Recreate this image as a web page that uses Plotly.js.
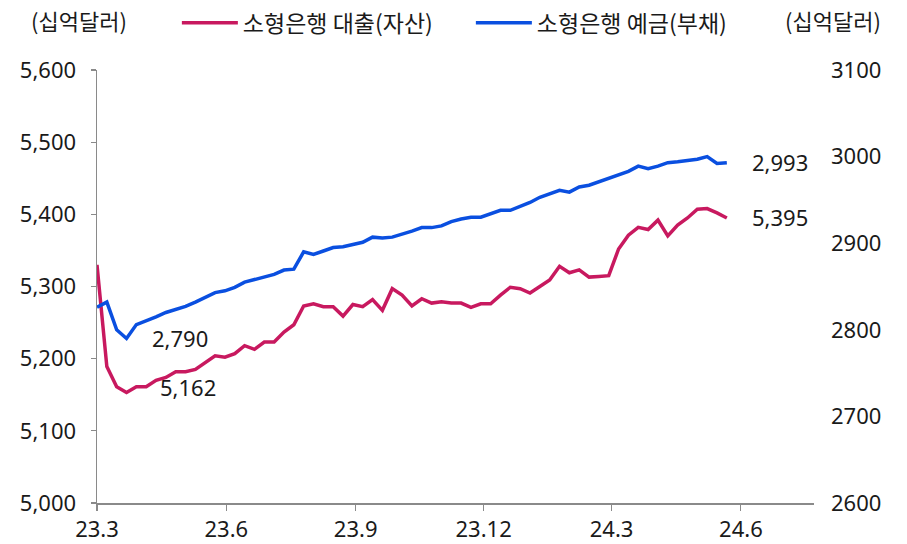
<!DOCTYPE html>
<html><head><meta charset="utf-8">
<script src="https://cdn.plot.ly/plotly-3.0.1.min.js"></script>
<style>html,body{margin:0;padding:0;background:#fff}#chart{width:907px;height:544px}</style>
</head><body><div id="chart"></div>
<script>
const dates = [
'2023-03-01','2023-03-08','2023-03-15','2023-03-22','2023-03-29','2023-04-05','2023-04-12','2023-04-19','2023-04-26',
'2023-05-03','2023-05-10','2023-05-17','2023-05-24','2023-05-31','2023-06-07','2023-06-14','2023-06-21','2023-06-28',
'2023-07-05','2023-07-12','2023-07-19','2023-07-26','2023-08-02','2023-08-09','2023-08-16','2023-08-23','2023-08-30',
'2023-09-06','2023-09-13','2023-09-20','2023-09-27','2023-10-04','2023-10-11','2023-10-18','2023-10-25',
'2023-11-01','2023-11-08','2023-11-15','2023-11-22','2023-11-29','2023-12-06','2023-12-13','2023-12-20','2023-12-27',
'2024-01-03','2024-01-10','2024-01-17','2024-01-24','2024-01-31','2024-02-07','2024-02-14','2024-02-21','2024-02-28',
'2024-03-06','2024-03-13','2024-03-20','2024-03-27','2024-04-03','2024-04-10','2024-04-17','2024-04-24',
'2024-05-01','2024-05-08','2024-05-15','2024-05-22'];

const loans = [5330,5189,5161,5153,5161,5161,5170,5174,5182,5182,
5185,5195,5204,5202,5207,5218,5213,5223,5223,5237,
5247,5273,5276,5272,5272,5259,5275,5272,5282,5267,
5297,5288,5273,5283,5277,5279,5277,5277,5271,5276,
5276,5288,5299,5297,5291,5300,5309,5328,5319,5323,
5313,5314,5315,5352,5371,5382,5379,5392,5370,5385,
5395,5407,5408,5402,5395];

const deposits = [2826,2832,2800,2790,2806,2810,2815,2820,2823,2827,
2832,2838,2843,2845,2849,2855,2858,2862,2864,2869,
2870,2890,2887,2891,2895,2896,2898,2901,2907,2906,
2907,2910,2914,2918,2918,2920,2925,2928,2930,2930,
2934,2938,2938,2942,2947,2953,2957,2961,2959,2965,
2967,2971,2974,2978,2983,2989,2986,2989,2993,2994,
2995,2997,3000,2992,2993];

const seriesNames = ['소형은행 대출(자산)', '소형은행 예금(부채)'];
const unitLabel = '(십억달러)';
const tickDates = ['2023-03-01','2023-06-01','2023-09-01','2023-12-01','2024-03-01','2024-06-01'];
const tickLabels = ['23.3','23.6','23.9','23.12','24.3','24.6'];
const leftTicks = [5000,5100,5200,5300,5400,5500,5600];
const rightTicks = [2600,2700,2800,2900,3000,3100];
const valueLabels = ['2,790','5,162','2,993','5,395'];

const RED = '#C8195F', BLUE = '#0A4FE0';
const FONT = 'Noto Sans, "Noto Sans CJK KR", sans-serif';
const KFONT = '"Noto Sans CJK KR", "Noto Sans", sans-serif';

const traces = [
  {x: dates, y: loans, name: seriesNames[0], type: 'scatter', mode: 'lines',
   line: {color: RED, width: 3.5}, yaxis: 'y'},
  {x: dates, y: deposits, name: seriesNames[1], type: 'scatter', mode: 'lines',
   line: {color: BLUE, width: 3.5}, yaxis: 'y2'}
];

const axisGray = '#8a8a8a';
const layout = {
  width: 907, height: 544,
  margin: {l: 97, r: 93, t: 70, b: 41},
  paper_bgcolor: '#fff', plot_bgcolor: '#fff',
  font: {family: FONT, size: 22, color: '#1a1a1a'},
  showlegend: true,
  legend: {orientation: 'h', xref: 'container', yref: 'container', x: 0.195, y: 0.958,
    xanchor: 'left', yanchor: 'middle', font: {family: KFONT, size: 23, color: '#1a1a1a'},
    entrywidth: 223, entrywidthmode: 'pixels', itemwidth: 56, bgcolor: 'rgba(0,0,0,0)'},
  xaxis: {type: 'date', range: ['2023-03-01', '2024-07-23'], tickmode: 'array',
    tickvals: tickDates, ticktext: tickLabels, showgrid: false, zeroline: false,
    showline: true, linecolor: axisGray, linewidth: 1.5, ticks: 'outside', ticklen: 6,
    tickcolor: axisGray, tickwidth: 1.2, tickfont: {family: FONT, size: 22, color: '#1a1a1a'}},
  yaxis: {range: [5000, 5600], tickmode: 'array', tickvals: leftTicks, tickformat: ',d',
    showgrid: false, zeroline: false, showline: true, linecolor: axisGray, linewidth: 1.5,
    ticks: 'outside', ticklen: 5, tickcolor: axisGray, tickwidth: 1.2, ticklabelstandoff: 10,
    tickfont: {family: FONT, size: 22, color: '#1a1a1a'}},
  yaxis2: {range: [2600, 3100], tickmode: 'array', tickvals: rightTicks, tickformat: 'd',
    overlaying: 'y', side: 'right', showgrid: false, zeroline: false, showline: false,
    ticks: '', ticklabelstandoff: 16, tickfont: {family: FONT, size: 22, color: '#1a1a1a'}},
  annotations: [
    {text: unitLabel, xref: 'paper', yref: 'paper', x: -0.0948, y: 1.1155, xanchor: 'left', yanchor: 'middle',
     showarrow: false, font: {family: KFONT, size: 22, color: '#1a1a1a'}},
    {text: unitLabel, xref: 'paper', yref: 'paper', x: 0.9568, y: 1.1155, xanchor: 'left', yanchor: 'middle',
     showarrow: false, font: {family: KFONT, size: 22, color: '#1a1a1a'}},
    {text: valueLabels[0], xref: 'paper', yref: 'paper', x: 0.0739, y: 0.381, xanchor: 'left', yanchor: 'middle', showarrow: false},
    {text: valueLabels[1], xref: 'paper', yref: 'paper', x: 0.0849, y: 0.268, xanchor: 'left', yanchor: 'middle', showarrow: false},
    {text: valueLabels[2], xref: 'paper', yref: 'paper', x: 0.9107, y: 0.7875, xanchor: 'left', yanchor: 'middle', showarrow: false},
    {text: valueLabels[3], xref: 'paper', yref: 'paper', x: 0.9107, y: 0.6605, xanchor: 'left', yanchor: 'middle', showarrow: false}
  ]
};

Plotly.newPlot('chart', traces, layout, {displayModeBar: false, staticPlot: true});
</script>
</body></html>
